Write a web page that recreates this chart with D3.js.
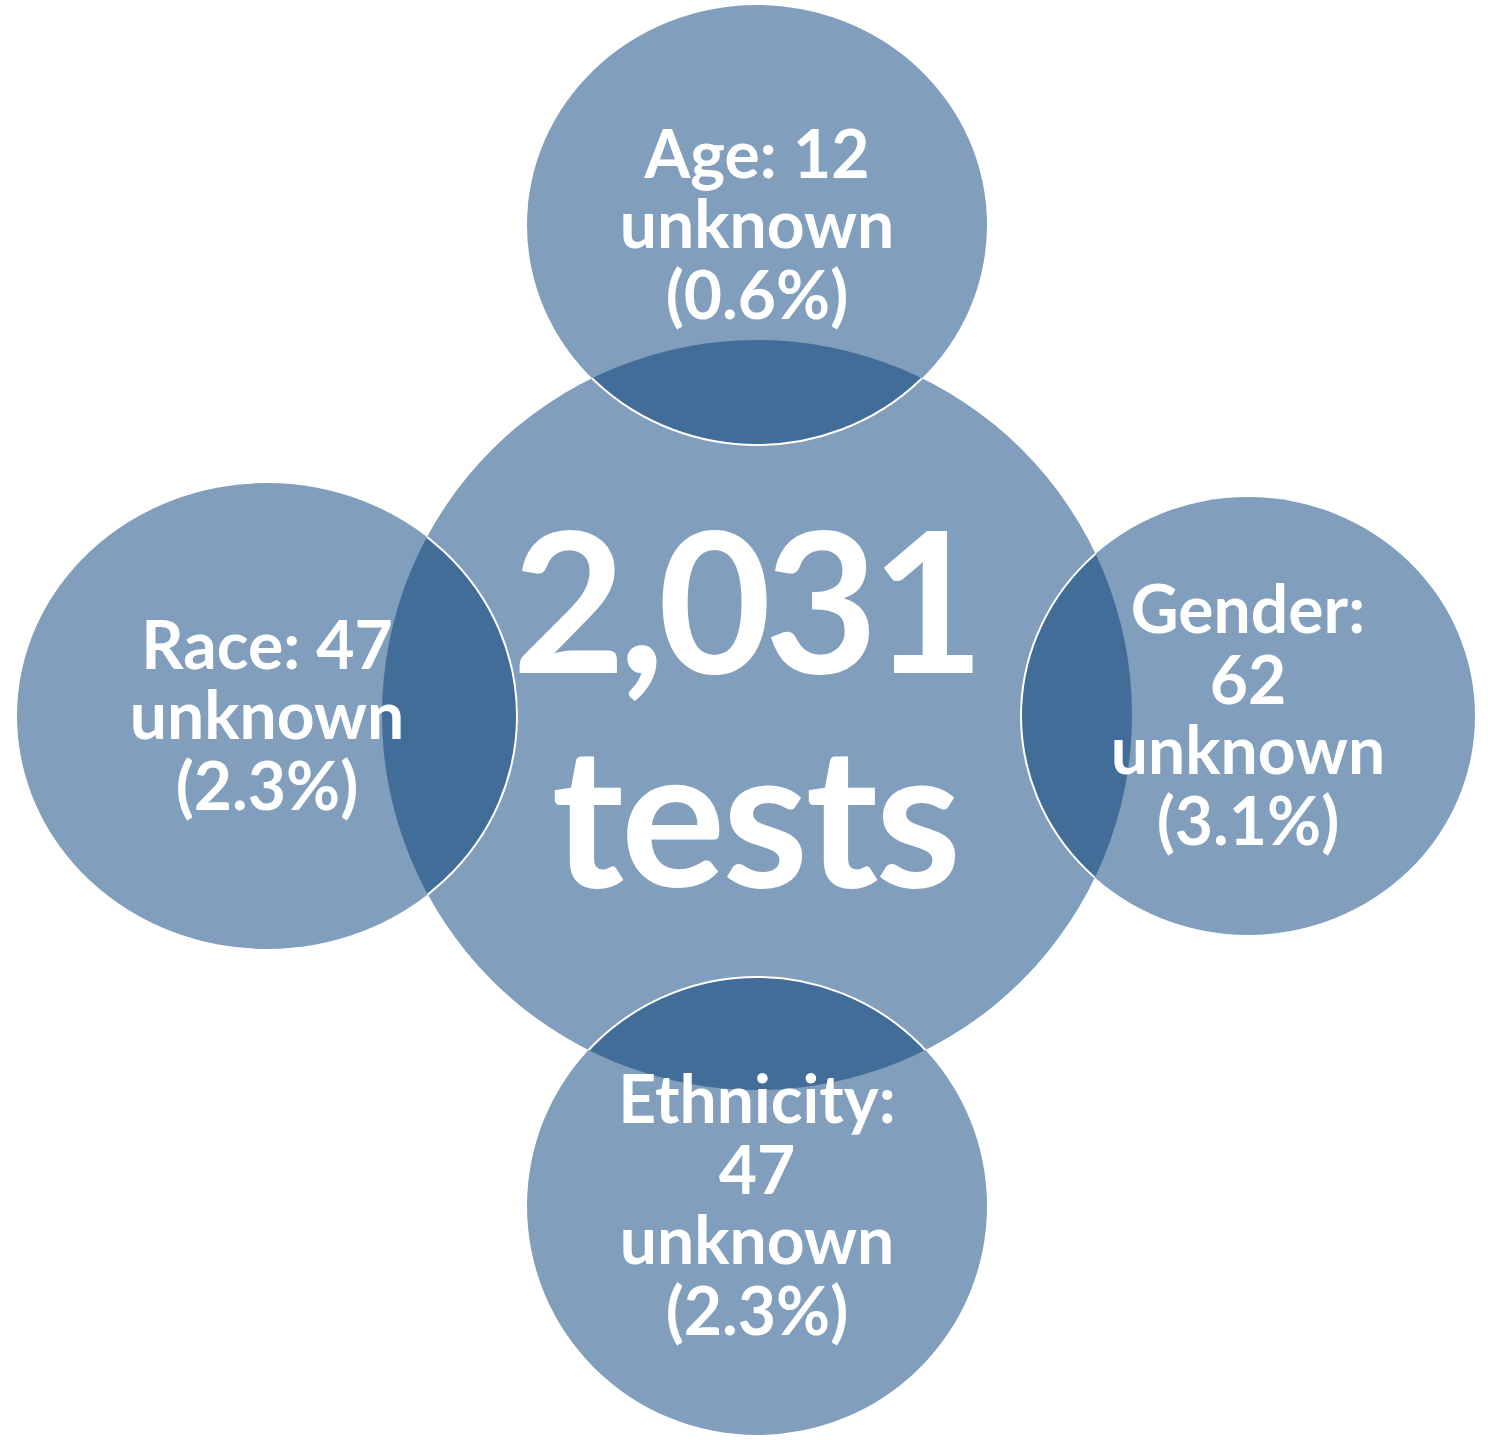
<!DOCTYPE html>
<html>
<head>
<meta charset="utf-8">
<script src="https://cdn.jsdelivr.net/npm/d3@7"></script>
<style>
  html, body { margin: 0; padding: 0; background: #ffffff; }
  svg { display: block; }
  text { font-family: "Lato", "Open Sans", sans-serif; font-weight: 700; fill: #ffffff; }
</style>
</head>
<body>
<div id="chart"></div>
<script>
// ---- data ----
const totalTests = 2031;
const categories = ["Age", "Race", "Gender", "Ethnicity"];
const unknownCounts = [12, 47, 62, 47];
const unknownPercent = [0.6, 2.3, 3.1, 2.3];
const breakAfterColon = [false, false, true, true];

// ---- layout ----
const W = 1488, H = 1440;
const lightFill = "#819EBD";
const darkFill = "#426D99";
const center = { cx: 757, cy: 715, r: 375 };
const satellites = [
  { cx: 757,  cy: 225,  rx: 230, ry: 220 },  // Age (top)
  { cx: 267,  cy: 716,  rx: 250, ry: 233 },  // Race (left)
  { cx: 1248, cy: 716,  rx: 227, ry: 219 },  // Gender (right)
  { cx: 757,  cy: 1206, rx: 230, ry: 229 }   // Ethnicity (bottom)
];
const labelSize = 66, labelLineH = 70.5, labelBaseShift = 23;

const fmt = d3.format(",");
const pctFmt = d3.format(".1f");

const svg = d3.select("#chart").append("svg")
  .attr("width", W).attr("height", H);

const defs = svg.append("defs");
defs.append("clipPath").attr("id", "centerClip")
  .append("circle").attr("cx", center.cx).attr("cy", center.cy).attr("r", center.r);

// central circle
svg.append("circle")
  .attr("cx", center.cx).attr("cy", center.cy).attr("r", center.r)
  .attr("fill", lightFill);

const data = categories.map((c, i) => ({
  cat: c, count: unknownCounts[i], pct: unknownPercent[i],
  brk: breakAfterColon[i], ...satellites[i]
}));

// satellite circles
svg.append("g").selectAll("ellipse").data(data).join("ellipse")
  .attr("cx", d => d.cx).attr("cy", d => d.cy)
  .attr("rx", d => d.rx).attr("ry", d => d.ry)
  .attr("fill", lightFill);

// overlaps
svg.append("g").attr("clip-path", "url(#centerClip)")
  .selectAll("ellipse").data(data).join("ellipse")
  .attr("cx", d => d.cx).attr("cy", d => d.cy)
  .attr("rx", d => d.rx).attr("ry", d => d.ry)
  .attr("fill", darkFill);

// white outline of satellites (visible inside the central circle)
svg.append("g").attr("clip-path", "url(#centerClip)")
  .selectAll("ellipse").data(data).join("ellipse")
  .attr("cx", d => d.cx).attr("cy", d => d.cy)
  .attr("rx", d => d.rx).attr("ry", d => d.ry)
  .attr("fill", "none").attr("stroke", "#ffffff").attr("stroke-width", 2);

// central label
const ct = svg.append("text")
  .attr("text-anchor", "middle")
  .style("font-size", "196px");
ct.append("tspan").attr("x", center.cx - 12).attr("y", center.cy - 42)
  .style("letter-spacing", "-7px").text(fmt(totalTests));
ct.append("tspan").attr("x", center.cx - 2).attr("y", center.cy + 172)
  .style("letter-spacing", "-3px").text("tests");

// satellite labels
data.forEach(d => {
  const lines = d.brk
    ? [d.cat + ":", String(d.count), "unknown", "(" + pctFmt(d.pct) + "%)"]
    : [d.cat + ": " + d.count, "unknown", "(" + pctFmt(d.pct) + "%)"];
  const t = svg.append("text")
    .attr("text-anchor", "middle")
    .style("font-size", labelSize + "px");
  lines.forEach((ln, i) => {
    t.append("tspan")
      .attr("x", d.cx)
      .attr("y", d.cy + labelBaseShift + (i - (lines.length - 1) / 2) * labelLineH)
      .text(ln);
  });
});
</script>
</body>
</html>
